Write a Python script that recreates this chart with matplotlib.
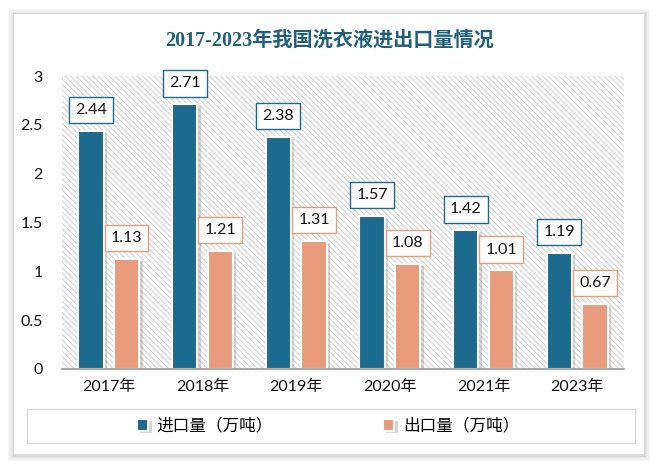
import matplotlib.pyplot as plt
import matplotlib.patheffects as pe
from matplotlib.patches import Rectangle
import numpy as np

years = ["2017年", "2018年", "2019年", "2020年", "2021年", "2023年"]
imports = [2.44, 2.71, 2.38, 1.57, 1.42, 1.19]
exports = [1.13, 1.21, 1.31, 1.08, 1.01, 0.67]
series_names = ["进口量（万吨）", "出口量（万吨）"]

c_imp = "#1c6a8e"
c_exp = "#e89c7c"
num_font = ["Lato", "Noto Sans CJK SC"]
cjk_font = ["Noto Sans CJK SC", "DejaVu Sans"]

plt.rcParams["hatch.linewidth"] = 0.6
plt.rcParams["hatch.color"] = "#c9c9c9"

fig = plt.figure(figsize=(6.58, 4.69), dpi=100)
fig.patch.set_facecolor("white")

# card with soft shadow
for k, a in enumerate([0.03, 0.03, 0.04, 0.05]):
    d = (4 - k) * 1.5
    fig.patches.append(Rectangle((14 / 658 - d / 658, 15 / 469 - d / 469 - 1 / 469),
                                 (630 + 2 * d) / 658, (440 + 2 * d) / 469,
                                 transform=fig.transFigure, facecolor="black",
                                 edgecolor="none", alpha=a, zorder=0))
fig.patches.append(Rectangle((14 / 658, 15 / 469), 630 / 658, 440 / 469,
                             transform=fig.transFigure, facecolor="white",
                             edgecolor="none", zorder=0.5))

fig.text(0.5, 1 - 41 / 469, "2017-2023年我国洗衣液进出口量情况", ha="center", va="center",
         fontsize=14.5, fontweight="bold", color="#1f5f7a",
         family=["Liberation Serif", "Noto Sans CJK SC"])

ax = fig.add_axes([62 / 658, 1 - 369 / 469, 562 / 658, 293 / 469])
ax.set_zorder(2)
ax.set_facecolor("none")
ax.add_patch(Rectangle((0, 0), 1, 1, transform=ax.transAxes, facecolor="white",
                       hatch="\\\\\\\\\\\\", edgecolor="#c9c9c9", linewidth=0, zorder=0))

x = np.arange(len(years))
w = 0.27
off = 0.19
shadow = [pe.SimplePatchShadow(offset=(2.5, -1.5), shadow_rgbFace="#777777", alpha=0.3),
          pe.Normal()]
b1 = ax.bar(x - off, imports, w, color=c_imp, edgecolor="white", linewidth=1.5,
            zorder=3, label=series_names[0])
b2 = ax.bar(x + off, exports, w, color=c_exp, edgecolor="white", linewidth=1.5,
            zorder=3, label=series_names[1])
for b in list(b1) + list(b2):
    b.set_path_effects(shadow)

for xi, v in zip(x, imports):
    ax.annotate(f"{v:.2f}", (xi - off, v), xytext=(0, 15), textcoords="offset points",
                ha="center", va="center", fontsize=11.5, family=num_font, color="#111111",
                bbox=dict(boxstyle="square,pad=0.38", facecolor="white", edgecolor=c_imp, lw=1),
                zorder=5)
for xi, v in zip(x, exports):
    ax.annotate(f"{v:.2f}", (xi + off, v), xytext=(0, 15), textcoords="offset points",
                ha="center", va="center", fontsize=11.5, family=num_font, color="#111111",
                bbox=dict(boxstyle="square,pad=0.38", facecolor="white", edgecolor=c_exp, lw=1),
                zorder=5)

ax.set_xlim(-0.5, len(years) - 0.5)
ax.set_ylim(0, 3)
ax.set_yticks([0, 0.5, 1, 1.5, 2, 2.5, 3])
ax.set_yticklabels(["0", "0.5", "1", "1.5", "2", "2.5", "3"], family=num_font, fontsize=11.5)
ax.set_xticks(x)
ax.set_xticklabels(years, family=["Lato", "Noto Sans CJK SC"], fontsize=11.5)
ax.tick_params(axis="both", length=0, colors="#111111")
ax.tick_params(axis="x", pad=8)
ax.tick_params(axis="y", pad=14)
for s in ["top", "right", "left"]:
    ax.spines[s].set_visible(False)
ax.spines["bottom"].set_color("#999999")
ax.spines["bottom"].set_linewidth(1.2)
ax.spines["bottom"].set_zorder(4)

fig.patches.append(Rectangle((27 / 658, 1 - 443 / 469), 608 / 658, 34 / 469,
                             transform=fig.transFigure, facecolor="none",
                             edgecolor="#d9d9d9", linewidth=1, zorder=1))
leg = fig.legend(handles=[b1, b2], labels=series_names, loc="center",
                 bbox_to_anchor=(24 / 658, 1 - 443 / 469, 608 / 658, 34 / 469),
                 ncol=2, frameon=False, prop={"family": cjk_font, "size": 12},
                 handlelength=0.7, handleheight=0.7, columnspacing=6.58, handletextpad=0.5)
leg.set_zorder(3)

fig.savefig("out.png", dpi=100)
